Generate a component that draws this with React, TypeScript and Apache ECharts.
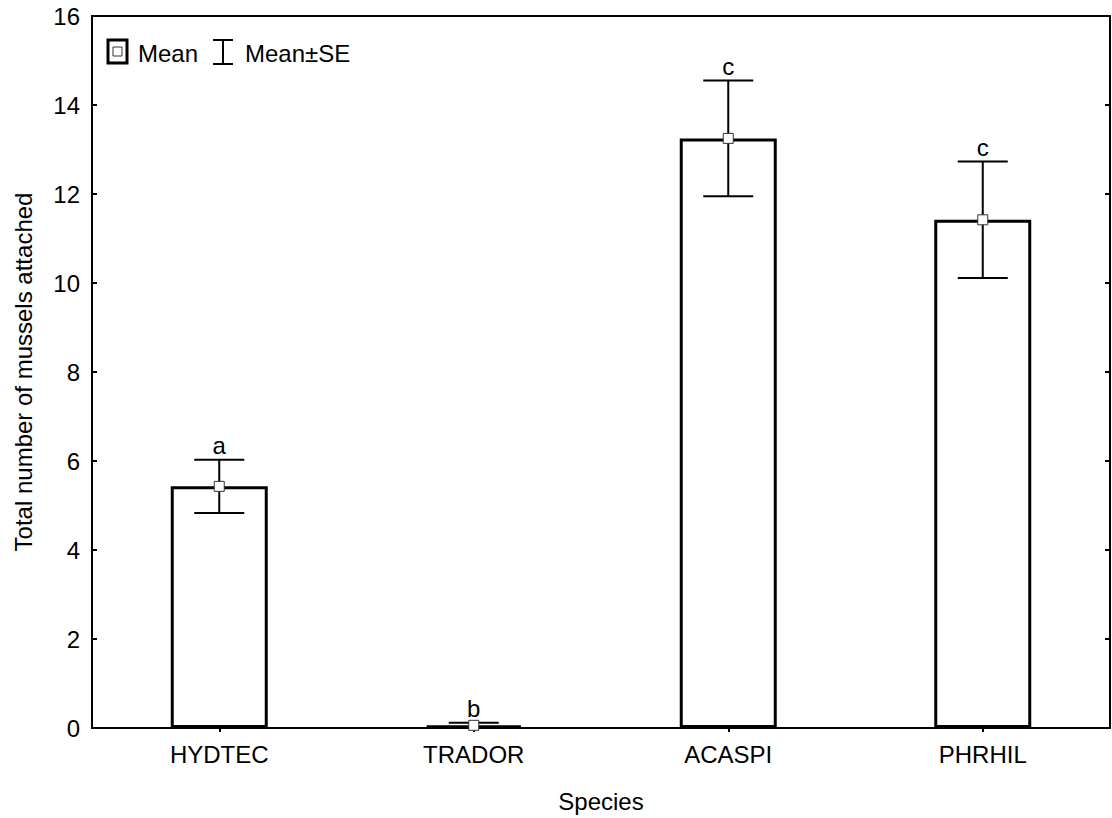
import React, { useEffect, useRef } from "react";
import * as echarts from "echarts";

const categories = ["HYDTEC", "TRADOR", "ACASPI", "PHRHIL"];
const means = [5.43, 0.06, 13.25, 11.42];
const se = [0.6, 0.06, 1.3, 1.31];
const letters = ["a", "b", "c", "c"];
const yTicks = { min: 0, max: 16, interval: 2 };

const FONT = "Arial, 'Liberation Sans', sans-serif";
const FS = 24;

export default function App() {
  const ref = useRef<HTMLDivElement>(null);
  useEffect(() => {
    if (!ref.current) return;
    const chart = echarts.init(ref.current, undefined, { renderer: "svg" });
    const errData = categories.map((_, i) => [i, means[i], se[i]]);
    const option: any = {
      animation: false,
      backgroundColor: "#fff",
      textStyle: { fontFamily: FONT, color: "#000" },
      grid: {
        left: 92, right: 2, top: 16, bottom: 89,
        show: true, borderColor: "#000", borderWidth: 2, backgroundColor: "transparent",
      },
      xAxis: [
        {
          type: "category", data: categories, position: "bottom",
          name: "Species", nameLocation: "middle", nameGap: 61,
          nameTextStyle: { fontFamily: FONT, fontSize: FS, color: "#000" },
          axisLine: { show: true, lineStyle: { color: "#000", width: 2 } },
          axisTick: { show: true, inside: true, length: 4, alignWithLabel: true, lineStyle: { color: "#000", width: 2 } },
          axisLabel: { fontFamily: FONT, fontSize: FS, color: "#000", margin: 14 },
          splitLine: { show: false },
        },
        {
          type: "category", data: categories, position: "top",
          axisLine: { show: true, lineStyle: { color: "#000", width: 2 } },
          axisTick: { show: true, inside: true, length: 4, alignWithLabel: true, lineStyle: { color: "#000", width: 2 } },
          axisLabel: { show: false },
          splitLine: { show: false },
        },
      ],
      yAxis: [
        {
          type: "value", min: yTicks.min, max: yTicks.max, interval: yTicks.interval, position: "left",
          name: "Total number of mussels attached", nameLocation: "middle", nameGap: 57,
          nameTextStyle: { fontFamily: FONT, fontSize: FS, color: "#000" },
          axisLine: { show: true, lineStyle: { color: "#000", width: 2 } },
          axisTick: { show: true, inside: true, length: 5, lineStyle: { color: "#000", width: 2 } },
          axisLabel: { fontFamily: FONT, fontSize: FS, color: "#000", margin: 12 },
          splitLine: { show: false },
        },
        {
          type: "value", min: yTicks.min, max: yTicks.max, interval: yTicks.interval, position: "right",
          axisLine: { show: true, lineStyle: { color: "#000", width: 2 } },
          axisTick: { show: true, inside: true, length: 5, lineStyle: { color: "#000", width: 2 } },
          axisLabel: { show: false },
          splitLine: { show: false },
        },
      ],
      series: [
        {
          type: "bar", data: means, barWidth: 97, z: 2,
          itemStyle: { color: "#fff", borderColor: "#000", borderWidth: 3 },
        },
        {
          type: "custom", data: errData, z: 3,
          renderItem: (params: any, api: any) => {
            const idx = api.value(0);
            const m = api.value(1);
            const s = api.value(2);
            const hi = api.coord([idx, m + s]);
            const lo = api.coord([idx, Math.max(0, m - s)]);
            const half = 25;
            const ls = { stroke: "#000", lineWidth: 2 };
            return {
              type: "group",
              children: [
                { type: "line", shape: { x1: hi[0], y1: hi[1], x2: lo[0], y2: lo[1] }, style: ls },
                { type: "line", shape: { x1: hi[0] - half, y1: hi[1], x2: hi[0] + half, y2: hi[1] }, style: ls },
                { type: "line", shape: { x1: lo[0] - half, y1: lo[1], x2: lo[0] + half, y2: lo[1] }, style: ls },
                {
                  type: "text",
                  style: {
                    x: hi[0], y: hi[1] - 2, text: letters[params.dataIndex],
                    align: "center", verticalAlign: "bottom",
                    font: `${FS}px ${FONT}`, fill: "#000",
                  },
                },
              ],
            };
          },
        },
        {
          type: "scatter", data: means, symbol: "rect", symbolSize: 10, z: 4,
          itemStyle: { color: "#fff", borderColor: "#333", borderWidth: 1, opacity: 1 },
        },
      ],
      graphic: [
        { type: "rect", shape: { x: 108, y: 40, width: 19, height: 23 }, style: { fill: "#fff", stroke: "#000", lineWidth: 3 } },
        { type: "rect", shape: { x: 113, y: 47, width: 9, height: 9 }, style: { fill: "#fff", stroke: "#333", lineWidth: 1 } },
        { type: "text", x: 138, y: 53, style: { text: "Mean", font: `${FS}px ${FONT}`, fill: "#000", verticalAlign: "middle" } },
        { type: "line", shape: { x1: 223, y1: 40, x2: 223, y2: 64 }, style: { stroke: "#000", lineWidth: 2 } },
        { type: "line", shape: { x1: 213, y1: 40, x2: 233, y2: 40 }, style: { stroke: "#000", lineWidth: 2 } },
        { type: "line", shape: { x1: 213, y1: 64, x2: 233, y2: 64 }, style: { stroke: "#000", lineWidth: 2 } },
        { type: "text", x: 245, y: 53, style: { text: "Mean±SE", font: `${FS}px ${FONT}`, fill: "#000", verticalAlign: "middle" } },
      ],
    };
    chart.setOption(option);
    return () => chart.dispose();
  }, []);
  return <div ref={ref} style={{ position: "fixed", left: 0, top: 0, width: 1112, height: 818 }} />;
}
